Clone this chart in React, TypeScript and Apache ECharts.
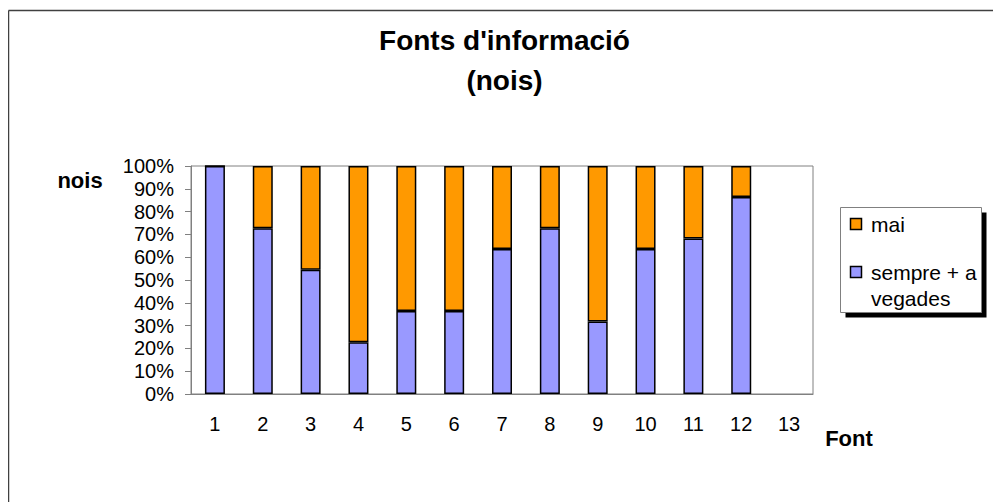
import React, { useEffect, useRef } from "react";
import * as echarts from "echarts";

const categories = ["1", "2", "3", "4", "5", "6", "7", "8", "9", "10", "11", "12", "13"];
const sempreValues = [100, 72.7, 54.5, 22.7, 36.4, 36.4, 63.6, 72.7, 31.8, 63.6, 68.2, 86.4, null];
const maiValues = [0, 27.3, 45.5, 77.3, 63.6, 63.6, 36.4, 27.3, 68.2, 36.4, 31.8, 13.6, null];
const seriesNames = ["sempre + a vegades", "mai"];
const titleText = "Fonts d'informació\n(nois)";
const yAxisName = "nois";
const xAxisName = "Font";

const FONT = "'Liberation Sans', Arial, sans-serif";
const BLUE = "#9999FF";
const ORANGE = "#FF9900";

export default function App() {
  const ref = useRef<HTMLDivElement>(null);
  useEffect(() => {
    if (!ref.current) return;
    const chart = echarts.init(ref.current, undefined, { renderer: "svg" });
    chart.setOption({
      animation: false,
      backgroundColor: "#ffffff",
      title: {
        text: titleText,
        left: "center",
        top: 12,
        padding: 0,
        textStyle: { fontFamily: FONT, fontSize: 28, fontWeight: "bold", color: "#000", lineHeight: 40 },
      },
      grid: {
        left: 183,
        top: 158,
        right: 188,
        bottom: 108,
        show: true,
        borderColor: "#808080",
        borderWidth: 1,
        backgroundColor: "#ffffff",
      },
      xAxis: {
        type: "category",
        data: categories,
        boundaryGap: true,
        axisLine: { show: true, lineStyle: { color: "#808080", width: 1 } },
        axisTick: { show: false },
        axisLabel: { fontFamily: FONT, fontSize: 20, color: "#000", margin: 20 },
        splitLine: { show: false },
      },
      yAxis: {
        type: "value",
        min: 0,
        max: 100,
        interval: 10,
        axisLine: { show: true, lineStyle: { color: "#808080", width: 1 } },
        axisTick: { show: true, inside: false, length: 6, lineStyle: { color: "#808080" } },
        axisLabel: { fontFamily: FONT, fontSize: 20, color: "#000", margin: 17, formatter: "{value}%" },
        splitLine: { show: false },
      },
      series: [
        {
          name: seriesNames[0],
          type: "bar",
          stack: "total",
          barWidth: 20,
          data: sempreValues,
          itemStyle: { color: BLUE, borderColor: "#000", borderWidth: 1.5 },
        },
        {
          name: seriesNames[1],
          type: "bar",
          stack: "total",
          barWidth: 20,
          data: maiValues,
          itemStyle: { color: ORANGE, borderColor: "#000", borderWidth: 1.5 },
        },
      ],
      graphic: [
        { type: "line", shape: { x1: 0.5, y1: 2.5, x2: 0.5, y2: 494 }, style: { stroke: "#404040", lineWidth: 1.5 } },
        { type: "line", shape: { x1: 0.5, y1: 2.5, x2: 993, y2: 2.5 }, style: { stroke: "#404040", lineWidth: 1.5 } },
        {
          type: "text",
          x: 72,
          y: 172,
          style: { text: yAxisName, font: `bold 22px ${FONT}`, fill: "#000", align: "center", verticalAlign: "middle" },
        },
        {
          type: "text",
          x: 841,
          y: 430,
          style: { text: xAxisName, font: `bold 22px ${FONT}`, fill: "#000", align: "center", verticalAlign: "middle" },
        },
        { type: "rect", shape: { x: 837.5, y: 204.5, width: 141, height: 105 }, style: { fill: "#000" } },
        { type: "rect", shape: { x: 832.5, y: 199.5, width: 141, height: 105 }, style: { fill: "#fff", stroke: "#808080", lineWidth: 1 } },
        { type: "rect", shape: { x: 842.5, y: 210.5, width: 11, height: 11 }, style: { fill: ORANGE, stroke: "#000", lineWidth: 1.5 } },
        {
          type: "text",
          x: 863,
          y: 216,
          style: { text: seriesNames[1], font: `21px ${FONT}`, fill: "#000", align: "left", verticalAlign: "middle" },
        },
        { type: "rect", shape: { x: 842.5, y: 258.5, width: 11, height: 11 }, style: { fill: BLUE, stroke: "#000", lineWidth: 1.5 } },
        {
          type: "text",
          x: 863,
          y: 264,
          style: { text: "sempre + a", font: `21px ${FONT}`, fill: "#000", align: "left", verticalAlign: "middle" },
        },
        {
          type: "text",
          x: 863,
          y: 290,
          style: { text: "vegades", font: `21px ${FONT}`, fill: "#000", align: "left", verticalAlign: "middle" },
        },
      ],
    });
    return () => chart.dispose();
  }, []);
  return <div ref={ref} style={{ width: 993, height: 494 }} />;
}
